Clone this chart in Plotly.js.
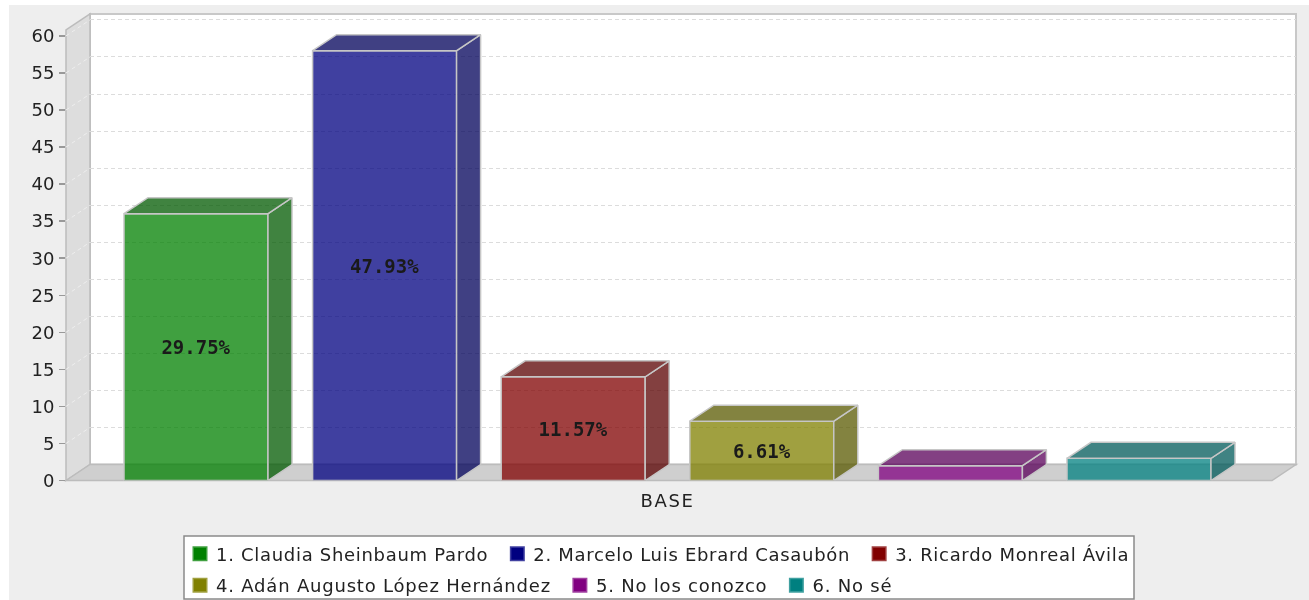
<!DOCTYPE html>
<html><head><meta charset="utf-8">
<script src="https://cdn.plot.ly/plotly-3.0.1.min.js"></script>
<style>html,body{margin:0;padding:0;background:#fff;overflow:hidden}
#c{position:absolute;left:9px;top:5px;width:1300px;height:595px;overflow:hidden;filter:blur(.45px)}
.legendtext{letter-spacing:.7px;transform:translateX(-4px)}
.legend2text{letter-spacing:.8px;transform:translateX(-4px)}
.x2tick text{letter-spacing:1.6px}
</style>
</head><body><div id="c"></div><script>
const categories=["BASE"];
const names=["1. Claudia Sheinbaum Pardo","2. Marcelo Luis Ebrard Casaubón","3. Ricardo Monreal Ávila","4. Adán Augusto López Hernández","5. No los conozco","6. No sé"];
const values=[36,58,14,8,2,3];
const labels=["29.75%","47.93%","11.57%","6.61%","",""];
const rgb=[[0,128,0],[0,0,128],[128,0,0],[128,128,0],[128,0,128],[0,128,128]];
const yTicks=[0,5,10,15,20,25,30,35,40,45,50,55,60];

// frame geometry in page pixels
const W=1300,H=595,ox=9,oy=5;
const fx0=66,fx1=1272,by1=1296,bx0=90,fy0=480.5,topY=14,pxPerUnit=7.41,dX=24,dY=16;
const cx=667.5,unit=fx1-fx0,slot=188.6/unit,barW=144/unit;
const px=x=>(x-ox)/W, py=y=>1-(y-oy)/H;
const xr=[(fx0-cx)/unit,(by1-cx)/unit];
const yr=[0,(fy0-topY)/pxPerUnit];
const dx=dX/unit,dy=dY/pxPerUnit;
const edge='#c6c6c6';
const rgba=(c,f,a)=>`rgba(${Math.round(c[0]*f)},${Math.round(c[1]*f)},${Math.round(c[2]*f)},${a})`;

const traces=[];
// legend entries (solid swatches), carried on the back-wall subplot
names.forEach((n,i)=>traces.push({type:'bar',x:[null],y:[null],name:n,xaxis:'x',yaxis:'y',legend:i<3?'legend':'legend2',hoverinfo:'skip',
  marker:{color:rgba(rgb[i],1,1),line:{color:rgba(rgb[i],1,.75),width:3}}}));
// depth faces
values.forEach((v,i)=>{
  const l=(i-2.5)*slot-barW/2,r=l+barW;
  traces.push({type:'scatter',mode:'lines',xaxis:'x2',yaxis:'y2',showlegend:false,hoverinfo:'skip',fill:'toself',fillcolor:rgba(rgb[i],.7,.75),line:{color:edge,width:1.5},
    x:[r,r+dx,r+dx,r,r],y:[0,dy,v+dy,v,0]});
  traces.push({type:'scatter',mode:'lines',xaxis:'x2',yaxis:'y2',showlegend:false,hoverinfo:'skip',fill:'toself',fillcolor:rgba(rgb[i],.7,.75),line:{color:edge,width:1.5},
    x:[l,l+dx,r+dx,r,l],y:[v,v+dy,v+dy,v,v]});
});
// front faces
values.forEach((v,i)=>traces.push({type:'bar',x:[0],y:[v],width:barW,offset:(i-2.5)*slot-barW/2,xaxis:'x2',yaxis:'y2',showlegend:false,
  marker:{color:rgba(rgb[i],1,.75),line:{color:edge,width:1.5}},
  text:[labels[i]],textposition:'inside',insidetextanchor:'middle',textangle:0,constraintext:'none',cliponaxis:false,
  textfont:{family:'"DejaVu Sans Mono"',size:19,color:'#1a1a1a',weight:'bold'},hoverinfo:'skip'}));

const shapes=[
  // white back plane
  {type:'rect',xref:'paper',yref:'paper',x0:px(bx0),x1:px(by1),y0:py(fy0-dY),y1:py(topY),fillcolor:'#fff',line:{color:'#c8c8c8',width:2},layer:'below'},
  // side wall
  {type:'path',xref:'paper',yref:'paper',path:`M${px(fx0)},${py(fy0)}L${px(bx0)},${py(fy0-dY)}L${px(bx0)},${py(topY)}L${px(fx0)},${py(topY+dY)}Z`,fillcolor:'#dddddd',line:{color:'#bcbcbc',width:1.5},layer:'below'},
  // floor
  {type:'path',xref:'paper',yref:'paper',path:`M${px(fx0)},${py(fy0)}L${px(bx0)},${py(fy0-dY)}L${px(by1)},${py(fy0-dY)}L${px(fx1)},${py(fy0)}Z`,fillcolor:'#cfcfcf',line:{color:'#bcbcbc',width:1.5},layer:'below'},
  // legend box
  {type:'rect',xref:'paper',yref:'paper',x0:px(184),x1:px(1134),y0:py(599),y1:py(536),fillcolor:'#fff',line:{color:'#8a8a8a',width:1.5},layer:'below'}
];
// wall grid lines, following the value ticks
yTicks.forEach(t=>{ if(t>0){const y=fy0-t*pxPerUnit;
  shapes.push({type:'line',xref:'paper',yref:'paper',x0:px(fx0),x1:px(bx0),y0:py(y),y1:py(y-dY),line:{color:'#eeeeee',width:1,dash:'4px,3px'},layer:'below'});}});

const layout={width:W,height:H,margin:{l:0,r:0,t:0,b:0,autoexpand:false},paper_bgcolor:'#eeeeee',plot_bgcolor:'rgba(0,0,0,0)',
  font:{family:'"DejaVu Sans"',color:'#222'},barmode:'overlay',showlegend:true,hovermode:false,
  xaxis:{domain:[px(bx0),px(by1)],range:[0,1],visible:false,showgrid:false,zeroline:false},
  yaxis:{domain:[py(fy0-dY),py(topY)],range:[0,(fy0-dY-topY)/pxPerUnit],anchor:'x',side:'left',ticks:'',showticklabels:false,showline:false,
    tickvals:yTicks,showgrid:true,gridcolor:'#dcdcdc',griddash:'4px,3px',gridwidth:1,zeroline:false},
  xaxis2:{domain:[px(fx0),px(by1)],range:xr,anchor:'y2',tickvals:[0],ticktext:categories,ticks:'',showgrid:false,zeroline:false,showline:false,tickfont:{size:18,color:'#222'},ticklabelstandoff:7},
  yaxis2:{domain:[py(fy0),py(topY)],range:yr,anchor:'x2',tickvals:yTicks,ticks:'outside',ticklen:6,tickcolor:'#999',tickwidth:1.5,showgrid:false,zeroline:false,showline:false,tickfont:{size:18,color:'#222'},ticklabelstandoff:1},
  shapes,
  legend:{orientation:'h',x:px(180),y:py(535.5),xanchor:'left',yanchor:'top',bgcolor:'rgba(0,0,0,0)',itemwidth:30,font:{size:18,color:'#222'},traceorder:'normal'},
  legend2:{orientation:'h',x:px(180),y:py(567),xanchor:'left',yanchor:'top',bgcolor:'rgba(0,0,0,0)',itemwidth:30,font:{size:18,color:'#222'},traceorder:'normal'}
};
Plotly.newPlot('c',traces,layout,{displayModeBar:false,staticPlot:true});
</script></body></html>
